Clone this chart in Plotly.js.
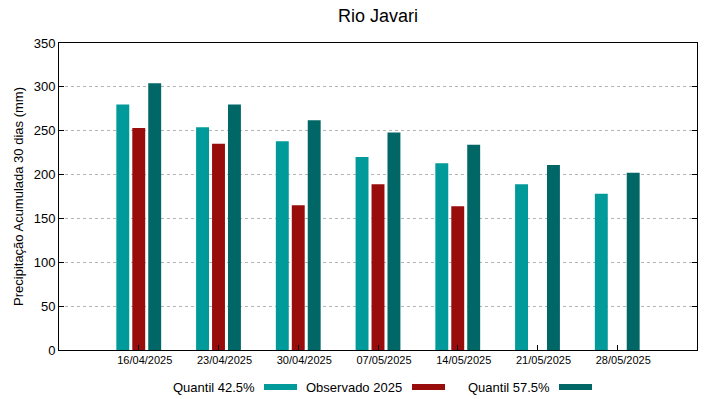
<!DOCTYPE html>
<html><head><meta charset="utf-8">
<script src="https://cdn.plot.ly/plotly-3.0.1.min.js"></script>
<style>body{margin:0;background:#fff}#c{width:719px;height:399px}</style>
</head><body><div id="c"></div>
<script>
const categories = ["16/04/2025","23/04/2025","30/04/2025","07/05/2025","14/05/2025","21/05/2025","28/05/2025"];
const q425 = [280, 254, 238, 220, 213, 189, 178];
const obs2025 = [253, 235, 165, 189, 164, null, null];
const q575 = [304, 280, 262, 248, 234, 211, 202];
const seriesNames = ["Quantil 42.5%", "Observado 2025", "Quantil 57.5%"];
const colors = ["#009a9a", "#990c0c", "#006666"];

const xs = categories.map((c,i)=>i);
const traces = [q425, obs2025, q575].map((v,k)=>({
  type:'bar', x: xs, y: v, name: seriesNames[k],
  marker:{color: colors[k], line:{width:0}}, showlegend:false, hoverinfo:'y'
}));

// legend (text left, swatch right) as annotations + shapes
const L = 59, R = 697, T = 43, B = 350;
const px = x => (x - L) / (R - L);
const py = y => (B - y) / (B - T);
const legendPos = [{te:257, s0:264, s1:297},{te:404, s0:412, s1:445},{te:552, s0:559, s1:592}];
const annotations = legendPos.map((p,k)=>({
  xref:'paper', yref:'paper', x: px(p.te), y: py(387.5), xanchor:'right', yanchor:'middle',
  text: seriesNames[k], showarrow:false, font:{family:'Liberation Sans, Arial, sans-serif', size:13, color:'#000'}
}));
const shapes = legendPos.map((p,k)=>({
  type:'rect', xref:'paper', yref:'paper', x0: px(p.s0), x1: px(p.s1), y0: py(390), y1: py(384),
  fillcolor: colors[k], line:{width:0}
}));

const layout = {
  width:719, height:399,
  margin:{l:59, r:22, t:43, b:49},
  paper_bgcolor:'#fff', plot_bgcolor:'#fff',
  font:{family:'Liberation Sans, Arial, sans-serif', color:'#000'},
  title:{text:'Rio Javari', x:(L+R)/2/719, xanchor:'center', y:1-16/399, yanchor:'middle', font:{size:18}},
  barmode:'group', bargap:0.4, bargroupgap:0.19,
  xaxis:{
    range:[-1, 7], tickmode:'array', tickvals: xs, ticktext: categories,
    ticks:'inside', ticklen:5, tickcolor:'#000', showgrid:false, zeroline:false,
    showline:true, linecolor:'#000', linewidth:1, mirror:true,
    tickfont:{size:11}, ticklabelshift:6
  },
  yaxis:{
    range:[0, 350], tickvals:[0,50,100,150,200,250,300,350],
    ticks:'inside', ticklen:5, tickcolor:'#000', mirror:'ticks',
    showline:true, linecolor:'#000', linewidth:1,
    showgrid:true, gridcolor:'#b4b4b4', griddash:'dot', gridwidth:1, zeroline:false,
    tickfont:{size:13},
    title:{text:'Precipitação Acumulada 30 dias (mm)', font:{size:13}, standoff:7}
  },
  annotations, shapes
};
Plotly.newPlot('c', traces, layout, {displayModeBar:false, staticPlot:true});
</script></body></html>
